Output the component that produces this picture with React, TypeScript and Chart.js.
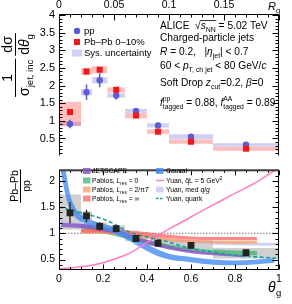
import React, { useEffect, useRef } from 'react';
import { Chart, registerables } from 'chart.js';

Chart.register(...registerables);

const FONT = '"Liberation Sans", Arial, Helvetica, sans-serif';

// ---------------- data ----------------
const BIN_LO = [0, 0.1, 0.15, 0.22, 0.3, 0.4, 0.5, 0.7];
const BIN_HI = [0.1, 0.15, 0.22, 0.3, 0.4, 0.5, 0.7, 1.0];
const THETA_G = [0.05, 0.125, 0.185, 0.26, 0.35, 0.45, 0.6, 0.85];

const PP_VAL = [0.91, 1.81, 2.15, 1.72, 1.28, 0.87, 0.55, 0.32];
const PP_STAT = [0.12, 0.22, 0.2, 0.12, 0.06, 0.05, 0.03, 0.03];
const PP_SYS = [0.06, 0.09, 0.09, 0.06, 0.06, 0.06, 0.07, 0.045];

const PBPB_VAL = [1.25, 2.4, 2.45, 1.88, 1.15, 0.69, 0.41, 0.21];
const PBPB_STAT = [0.05, 0.05, 0.05, 0.04, 0.04, 0.04, 0.03, 0.03];
const PBPB_SYS_LO = [0.86, 2.3, 2.35, 1.8, 1.07, 0.63, 0.35, 0.15];
const PBPB_SYS_HI = [1.54, 2.5, 2.55, 1.95, 1.22, 0.76, 0.47, 0.27];

const RATIO_VAL = [1.39, 1.33, 1.13, 1.09, 0.9, 0.81, 0.77, 0.63];
const RATIO_STAT = [0.2, 0.12, 0.08, 0.05, 0.04, 0.04, 0.04, 0.04];
const RATIO_SYS_LO = [1.07, 1.24, 1.06, 1.03, 0.85, 0.76, 0.7, 0.52];
const RATIO_SYS_HI = [1.74, 1.42, 1.21, 1.15, 0.95, 0.87, 0.87, 0.72];

const CAUCAL_X = [0.005, 0.03, 0.05, 0.07, 0.1, 0.15, 0.2, 0.25, 0.3, 0.35, 0.4, 0.45, 0.5, 0.6, 0.7, 0.8, 0.9, 0.98];
const CAUCAL_LO = [2.25, 1.72, 1.45, 1.32, 1.22, 1.13, 1.07, 1.0, 0.9, 0.78, 0.66, 0.56, 0.5, 0.45, 0.4, 0.39, 0.41, 0.44];
const CAUCAL_HI = [2.75, 2.2, 1.75, 1.52, 1.36, 1.25, 1.18, 1.12, 1.03, 0.9, 0.79, 0.69, 0.61, 0.55, 0.5, 0.48, 0.5, 0.53];

const JET_X = [0.01, 0.1, 0.2, 0.26, 0.3, 0.35, 0.4, 0.5, 0.6, 0.7, 0.85];
const JET_LO = [1.12, 1.1, 1.04, 0.99, 0.94, 0.86, 0.79, 0.69, 0.62, 0.58, 0.54];
const JET_HI = [1.2, 1.18, 1.12, 1.07, 1.02, 0.94, 0.87, 0.76, 0.68, 0.63, 0.58];

const PAB_X = [0.1, 0.2, 0.3, 0.4, 0.5, 0.6, 0.7, 0.8, 0.9];
const PAB0_LO = [1.08, 1.0, 0.9, 0.8, 0.71, 0.65, 0.61, 0.59, 0.58];
const PAB0_HI = [1.18, 1.1, 0.99, 0.88, 0.79, 0.72, 0.69, 0.67, 0.66];
const PAB2_LO = [1.0, 0.99, 0.95, 0.9, 0.85, 0.82, 0.81, 0.8, 0.8];
const PAB2_HI = [1.06, 1.05, 1.01, 0.96, 0.91, 0.88, 0.86, 0.86, 0.86];
const PABI_LO = [1.01, 1.01, 0.99, 0.95, 0.91, 0.88, 0.87, 0.87, 0.87];
const PABI_HI = [1.08, 1.08, 1.06, 1.02, 0.97, 0.94, 0.93, 0.93, 0.93];

const YMED_X = [0, 0.1, 0.2, 0.3, 0.4, 0.5, 0.6, 0.7, 0.8, 0.9, 1.0];
const YMED_LO = [1.17, 1.13, 1.07, 0.98, 0.9, 0.84, 0.8, 0.78, 0.77, 0.76, 0.76];
const YMED_HI = [1.24, 1.2, 1.13, 1.04, 0.96, 0.9, 0.86, 0.84, 0.83, 0.82, 0.82];

const YQ_X = [0, 0.1, 0.2, 0.25, 0.3, 0.35, 0.4, 0.5, 0.6, 0.7, 0.8, 0.9, 1.0];
const YQ_Y = [1.5, 1.39, 1.27, 1.18, 1.06, 0.98, 0.93, 0.83, 0.71, 0.64, 0.58, 0.55, 0.52];

const PINK_X = [0, 0.1, 0.2, 0.3, 0.35, 0.4, 0.45, 0.5, 0.6, 0.7, 0.8, 0.9, 1.0];
const PINK_Y = [0.32, 0.36, 0.44, 0.58, 0.69, 0.82, 0.96, 1.08, 1.31, 1.54, 1.76, 1.98, 2.25];

const TOP_Y_TICKS = [0.5, 1, 1.5, 2, 2.5, 3, 3.5, 4];
const BOT_Y_TICKS = [0.5, 1, 1.5, 2];
const X_TICKS = [0, 0.2, 0.4, 0.6, 0.8, 1];
const RG_TICKS = [0, 0.05, 0.1, 0.15];

// ---------------- colours ----------------
const PP_COLOR = '#5c5cd4';
const PP_SYS_COLOR = 'rgba(110,110,225,0.32)';
const PB_COLOR = '#f01818';
const PB_SYS_COLOR = 'rgba(255,70,70,0.35)';
const GRAY_SYS = 'rgba(150,150,150,0.45)';
const C_CAUCAL = 'rgba(70,140,240,0.8)';
const C_JET = 'rgba(140,90,200,0.85)';
const C_PAB0 = 'rgba(60,180,110,0.75)';
const C_PAB2 = 'rgba(255,150,90,0.72)';
const C_PABI = 'rgba(255,90,90,0.72)';
const C_YMED = 'rgba(195,195,245,0.75)';
const C_PINK = '#ff7fc4';
const C_TEAL = '#169c9c';

type Part = [string, string];

function rich(ctx: CanvasRenderingContext2D, x: number, y: number, parts: Part[], size: number, draw = true): number {
  let cx = x;
  let sq = 0;
  for (const [t, k] of parts) {
    if (k === 'r') {
      ctx.font = `${size}px ${FONT}`;
      if (draw) ctx.fillText('\u221A', cx, y);
      cx += ctx.measureText('\u221A').width;
      sq = cx;
      continue;
    }
    if (k === 'R') {
      if (draw) ctx.fillRect(sq - 0.5, y - size * 0.86, cx - sq + 1, 0.8);
      continue;
    }
    if (k === 's') {
      const [a, b] = t.split('|');
      const fs = size * 0.66;
      ctx.font = `${fs}px ${FONT}`;
      if (draw) {
        ctx.fillText(a, cx, y - size * 0.45);
        ctx.fillText(b, cx, y + size * 0.3);
      }
      cx += Math.max(ctx.measureText(a).width, ctx.measureText(b).width);
      continue;
    }
    const it = k.includes('i');
    const sb = k.includes('b');
    const sp = k.includes('p');
    const fs = sb || sp ? size * 0.68 : size;
    ctx.font = `${it ? 'italic ' : ''}${fs}px ${FONT}`;
    const dy = sb ? size * 0.3 : sp ? -size * 0.42 : 0;
    if (draw) ctx.fillText(t, cx, y + dy);
    cx += ctx.measureText(t).width;
  }
  return cx - x;
}

function rotFrac(ctx: CanvasRenderingContext2D, barX: number, cy: number, fracs: { num: Part[]; den: Part[] }[], size: number, gap: number) {
  ctx.save();
  ctx.translate(barX, cy);
  ctx.rotate(-Math.PI / 2);
  ctx.fillStyle = '#000';
  ctx.textBaseline = 'alphabetic';
  ctx.textAlign = 'left';
  const ws = fracs.map((f) => {
    const nw = rich(ctx, 0, 0, f.num, size, false);
    const dw = rich(ctx, 0, 0, f.den, size, false);
    return { nw, dw, w: Math.max(nw, dw) + 2 };
  });
  const total = ws.reduce((s, w) => s + w.w, 0) + gap * (fracs.length - 1);
  let x = -total / 2;
  fracs.forEach((f, i) => {
    const { nw, dw, w } = ws[i];
    rich(ctx, x + (w - nw) / 2, -size * 0.22, f.num, size, true);
    rich(ctx, x + (w - dw) / 2, size * 0.95, f.den, size, true);
    ctx.fillRect(x, -0.5, w, 1);
    x += w + gap;
  });
  ctx.restore();
}

function boxPx(ctx: CanvasRenderingContext2D, xs: any, ys: any, x0: number, x1: number, y0: number, y1: number) {
  const px0 = xs.getPixelForValue(x0);
  const px1 = xs.getPixelForValue(x1);
  const py0 = ys.getPixelForValue(y1);
  const py1 = ys.getPixelForValue(y0);
  ctx.fillRect(px0, py0, px1 - px0, py1 - py0);
}

function clipArea(ctx: CanvasRenderingContext2D, a: any) {
  ctx.beginPath();
  ctx.rect(a.left, a.top, a.right - a.left, a.bottom - a.top);
  ctx.clip();
}

// ---------------- top chart ----------------
const topPlugin = {
  id: 'topDeco',
  beforeDatasetsDraw(chart: any) {
    const { ctx, chartArea: a } = chart;
    const xs = chart.scales.x;
    const ys = chart.scales.y;
    ctx.save();
    clipArea(ctx, a);
    ctx.fillStyle = PP_SYS_COLOR;
    BIN_LO.forEach((lo, i) => boxPx(ctx, xs, ys, lo, BIN_HI[i], PP_VAL[i] - PP_SYS[i], PP_VAL[i] + PP_SYS[i]));
    ctx.fillStyle = PB_SYS_COLOR;
    BIN_LO.forEach((lo, i) => boxPx(ctx, xs, ys, lo, BIN_HI[i], PBPB_SYS_LO[i], PBPB_SYS_HI[i]));
    ctx.lineWidth = 1.5;
    ctx.strokeStyle = PP_COLOR;
    ctx.beginPath();
    THETA_G.forEach((t, i) => {
      const px = xs.getPixelForValue(t);
      ctx.moveTo(px, ys.getPixelForValue(PP_VAL[i] - PP_STAT[i]));
      ctx.lineTo(px, ys.getPixelForValue(PP_VAL[i] + PP_STAT[i]));
    });
    ctx.stroke();
    ctx.strokeStyle = PB_COLOR;
    ctx.beginPath();
    THETA_G.forEach((t, i) => {
      const px = xs.getPixelForValue(t);
      ctx.moveTo(px, ys.getPixelForValue(PBPB_VAL[i] - PBPB_STAT[i]));
      ctx.lineTo(px, ys.getPixelForValue(PBPB_VAL[i] + PBPB_STAT[i]));
    });
    ctx.stroke();
    ctx.restore();
  },
  afterDraw(chart: any) {
    const { ctx, chartArea: a } = chart;
    const ys = chart.scales.y;
    const xr = chart.scales.xr;
    ctx.save();
    ctx.strokeStyle = '#000';
    ctx.lineWidth = 1;
    const L = a.left + 0.5;
    const R = a.right - 0.5;
    const T = a.top + 0.5;
    const B = a.bottom;
    ctx.beginPath();
    ctx.moveTo(L, B);
    ctx.lineTo(L, T);
    ctx.lineTo(R, T);
    ctx.lineTo(R, B);
    for (let k = 1; k <= 40; k++) {
      const v = k / 10;
      const p = Math.round(ys.getPixelForValue(v)) + 0.5;
      const len = k % 5 === 0 ? 6 : 3;
      ctx.moveTo(L, p);
      ctx.lineTo(L + len, p);
      ctx.moveTo(R, p);
      ctx.lineTo(R - len, p);
    }
    for (let k = 0; k <= 20; k++) {
      const p = Math.round(xr.getPixelForValue(k / 100)) + 0.5;
      const len = k % 5 === 0 ? 6 : 3;
      ctx.moveTo(p, T);
      ctx.lineTo(p, T + len);
    }
    ctx.stroke();

    ctx.fillStyle = '#000';
    ctx.textBaseline = 'alphabetic';
    ctx.textAlign = 'left';
    // R_g axis title
    rich(ctx, 268, 10, [['R', 'i'], ['g', 'b']], 11);

    // legend
    ctx.fillStyle = PP_COLOR;
    ctx.beginPath();
    ctx.arc(77, 31, 3.2, 0, Math.PI * 2);
    ctx.fill();
    ctx.fillStyle = PB_COLOR;
    ctx.fillRect(74, 39, 6, 6);
    ctx.fillStyle = PP_SYS_COLOR;
    ctx.fillRect(72, 49.5, 10, 7);
    ctx.fillStyle = '#000';
    ctx.font = `9.5px ${FONT}`;
    ctx.fillText('pp', 84, 34.3);
    ctx.fillText('Pb\u2013Pb 0\u201310%', 84, 45.3);
    ctx.fillText('Sys. uncertainty', 84, 56.3);

    // text block
    const S = 10.2;
    const X0 = 160;
    rich(ctx, X0, 29, [['ALICE  ', ''], ['', 'r'], ['s', 'i'], ['NN', 'b'], ['', 'R'], [' = 5.02 TeV', '']], S);
    rich(ctx, X0, 41, [['Charged-particle jets', '']], S);
    rich(ctx, X0, 55, [['R', 'i'], [' = 0.2,   |', ''], ['\u03B7', 'i'], ['jet', 'b'], ['| < 0.7', '']], S);
    rich(ctx, X0, 69, [['60 < ', ''], ['p', 'i'], ['T, ch jet', 'b'], [' < 80 GeV/', ''], ['c', 'i']], S);
    rich(ctx, X0, 85.5, [['Soft Drop ', ''], ['z', 'i'], ['cut', 'b'], ['=0.2, ', ''], ['\u03B2', 'i'], ['=0', '']], S);
    rich(ctx, X0, 106, [['f', 'i'], ['pp|tagged', 's'], [' = 0.88, ', ''], ['f', 'i'], ['AA|tagged', 's'], [' = 0.89', '']], S);

    // y title
    rotFrac(
      ctx,
      15.5,
      65,
      [
        { num: [['1', '']], den: [['\u03C3', ''], ['jet, inc', 'b']] },
        { num: [['d\u03C3', '']], den: [['d', ''], ['\u03B8', 'i'], ['g', 'b']] },
      ],
      14,
      3
    );
    ctx.restore();
  },
};

function topConfig(): any {
  return {
    type: 'line',
    data: {
      datasets: [
        {
          label: 'Pb-Pb 0-10%',
          data: THETA_G.map((x, i) => ({ x, y: PBPB_VAL[i] })),
          showLine: false,
          pointStyle: 'rect',
          pointRadius: 4.3,
          backgroundColor: PB_COLOR,
          borderColor: PB_COLOR,
          borderWidth: 0,
          order: 0,
        },
        {
          label: 'pp',
          data: THETA_G.map((x, i) => ({ x, y: PP_VAL[i] })),
          showLine: false,
          pointStyle: 'circle',
          pointRadius: 3.2,
          backgroundColor: PP_COLOR,
          borderColor: PP_COLOR,
          borderWidth: 0,
          order: 1,
        },
      ],
    },
    options: {
      responsive: false,
      animation: false,
      devicePixelRatio: 1,
      layout: { padding: { left: 0, right: 13, top: 0, bottom: 0 } },
      plugins: { legend: { display: false }, tooltip: { enabled: false } },
      scales: {
        x: { type: 'linear', min: 0, max: 1, display: false },
        xr: {
          type: 'linear',
          position: 'top',
          min: 0,
          max: 0.2,
          grid: { display: false, drawTicks: false },
          border: { display: false },
          ticks: { autoSkip: false, maxRotation: 0, padding: 3, color: '#000', font: { family: FONT, size: 10.5 }, callback: (v: number) => String(v) },
          afterBuildTicks: (s: any) => {
            s.ticks = RG_TICKS.map((v) => ({ value: v }));
          },
          afterFit: (s: any) => {
            s.height = 14;
          },
        },
        y: {
          type: 'linear',
          min: 0.02,
          max: 4.03,
          grid: { display: false, drawTicks: false },
          border: { display: false },
          ticks: { autoSkip: false, padding: 4, color: '#000', font: { family: FONT, size: 11 }, callback: (v: number) => String(v) },
          afterBuildTicks: (s: any) => {
            s.ticks = TOP_Y_TICKS.map((v) => ({ value: v }));
          },
          afterFit: (s: any) => {
            s.width = 59;
          },
        },
      },
    },
    plugins: [topPlugin],
  };
}

// ---------------- bottom chart ----------------
const botPlugin = {
  id: 'botDeco',
  beforeDatasetsDraw(chart: any) {
    const { ctx, chartArea: a } = chart;
    const xs = chart.scales.x;
    const ys = chart.scales.y;
    ctx.save();
    clipArea(ctx, a);
    ctx.fillStyle = GRAY_SYS;
    BIN_LO.forEach((lo, i) => boxPx(ctx, xs, ys, lo, BIN_HI[i], RATIO_SYS_LO[i], RATIO_SYS_HI[i]));
    ctx.restore();
  },
  beforeDatasetDraw(chart: any, args: any) {
    if (args.index !== 0) return;
    const { ctx, chartArea: a } = chart;
    const xs = chart.scales.x;
    const ys = chart.scales.y;
    ctx.save();
    clipArea(ctx, a);
    ctx.strokeStyle = '#222';
    ctx.lineWidth = 1.3;
    ctx.beginPath();
    THETA_G.forEach((t, i) => {
      const px = xs.getPixelForValue(t);
      ctx.moveTo(px, ys.getPixelForValue(RATIO_VAL[i] - RATIO_STAT[i]));
      ctx.lineTo(px, ys.getPixelForValue(RATIO_VAL[i] + RATIO_STAT[i]));
    });
    ctx.stroke();
    ctx.restore();
  },
  afterDraw(chart: any) {
    const { ctx, chartArea: a } = chart;
    const xs = chart.scales.x;
    const ys = chart.scales.y;
    ctx.save();
    ctx.strokeStyle = '#000';
    ctx.lineWidth = 1;
    const L = a.left + 0.5;
    const R = a.right - 0.5;
    const T = a.top;
    const B = a.bottom - 0.5;
    ctx.beginPath();
    ctx.moveTo(L, T);
    ctx.lineTo(L, B);
    ctx.lineTo(R, B);
    ctx.lineTo(R, T);
    for (let k = 4; k <= 22; k++) {
      const p = Math.round(ys.getPixelForValue(k / 10)) + 0.5;
      const len = k % 5 === 0 ? 6 : 3;
      ctx.moveTo(L, p);
      ctx.lineTo(L + len, p);
      ctx.moveTo(R, p);
      ctx.lineTo(R - len, p);
    }
    for (let k = 0; k <= 20; k++) {
      const p = Math.round(xs.getPixelForValue(k / 20)) + 0.5;
      const len = k % 4 === 0 ? 5 : 2.5;
      ctx.moveTo(p, B);
      ctx.lineTo(p, B - len);
      ctx.moveTo(p, T);
      ctx.lineTo(p, T + len);
    }
    ctx.stroke();
    ctx.fillStyle = '#3a3a3a';
    ctx.fillRect(a.left, a.top - 1, a.right - a.left, 2);

    // legend
    const LS = 6.8;
    const rows = [171, 180.5, 189.5, 198.5].map((v) => v - 160);
    const c1s = 83;
    const c1t = 92;
    const c2s = 156;
    const c2t = 166;
    const sw = (x: number, y: number, col: string) => {
      ctx.fillStyle = col;
      ctx.fillRect(x, y - 3, 7.5, 6);
    };
    sw(c1s, rows[0], C_JET);
    sw(c1s, rows[1], C_PAB0);
    sw(c1s, rows[2], C_PAB2);
    sw(c1s, rows[3], C_PABI);
    sw(c2s, rows[0], C_CAUCAL);
    sw(c2s, rows[2], C_YMED);
    ctx.strokeStyle = C_PINK;
    ctx.lineWidth = 1.5;
    ctx.beginPath();
    ctx.moveTo(c2s, rows[1]);
    ctx.lineTo(c2s + 8, rows[1]);
    ctx.stroke();
    ctx.strokeStyle = C_TEAL;
    ctx.setLineDash([2.5, 1.5]);
    ctx.beginPath();
    ctx.moveTo(c2s, rows[3]);
    ctx.lineTo(c2s + 8, rows[3]);
    ctx.stroke();
    ctx.setLineDash([]);
    ctx.fillStyle = '#000';
    ctx.textBaseline = 'alphabetic';
    ctx.textAlign = 'left';
    const bl = LS * 0.36;
    rich(ctx, c1t, rows[0] + bl, [['JETSCAPE', '']], LS);
    rich(ctx, c1t, rows[1] + bl, [['Pablos, ', ''], ['L', 'i'], ['res', 'b'], [' = 0', '']], LS);
    rich(ctx, c1t, rows[2] + bl, [['Pablos, ', ''], ['L', 'i'], ['res', 'b'], [' = 2/\u03C0', ''], ['T', 'i']], LS);
    rich(ctx, c1t, rows[3] + bl, [['Pablos, ', ''], ['L', 'i'], ['res', 'b'], [' = \u221E', '']], LS);
    rich(ctx, c2t, rows[0] + bl, [['Caucal', '']], LS);
    rich(ctx, c2t, rows[1] + bl, [['Yuan, ', ''], ['q\u0302', ''], ['L = 5 GeV', ''], ['2', 'p']], LS);
    rich(ctx, c2t, rows[2] + bl, [['Yuan, med ', ''], ['q', 'i'], ['/', ''], ['g', 'i']], LS);
    rich(ctx, c2t, rows[3] + bl, [['Yuan, quark', '']], LS);

    // axis title
    rich(ctx, 268, 132, [['\u03B8', 'i']], 14);
    ctx.font = `9.5px ${FONT}`;
    ctx.fillText('g', 276, 136);

    // y title
    rotFrac(ctx, 20.5, 26, [{ num: [['Pb\u2013Pb', '']], den: [['pp', '']] }], 10.5, 0);
    ctx.restore();
  },
};

function botConfig(): any {
  const datasets: any[] = [];
  datasets.push({
    label: 'ratio',
    data: THETA_G.map((x, i) => ({ x, y: RATIO_VAL[i] })),
    showLine: false,
    pointStyle: 'rect',
    pointRadius: 4.8,
    backgroundColor: '#222',
    borderColor: '#222',
    borderWidth: 0,
    order: 0,
  });
  datasets.push({
    label: 'Yuan, quark',
    data: YQ_X.map((x, i) => ({ x, y: YQ_Y[i] })),
    borderColor: C_TEAL,
    borderWidth: 1.6,
    borderDash: [4, 2.5],
    pointRadius: 0,
    fill: false,
    cubicInterpolationMode: 'monotone',
    order: 1,
  });
  datasets.push({
    label: 'Yuan qL',
    data: PINK_X.map((x, i) => ({ x, y: PINK_Y[i] })),
    borderColor: C_PINK,
    borderWidth: 1.5,
    pointRadius: 0,
    fill: false,
    cubicInterpolationMode: 'monotone',
    order: 2,
  });
  const band = (xsA: number[], lo: number[], hi: number[], color: string, order: number) => {
    const loIdx = datasets.length;
    datasets.push({
      data: xsA.map((x, i) => ({ x, y: lo[i] })),
      borderWidth: 0,
      pointRadius: 0,
      fill: false,
      cubicInterpolationMode: 'monotone',
      order,
    });
    datasets.push({
      data: xsA.map((x, i) => ({ x, y: hi[i] })),
      borderWidth: 0,
      pointRadius: 0,
      fill: loIdx,
      backgroundColor: color,
      cubicInterpolationMode: 'monotone',
      order,
    });
  };
  band(CAUCAL_X, CAUCAL_LO, CAUCAL_HI, C_CAUCAL, 3);
  band(JET_X, JET_LO, JET_HI, C_JET, 4);
  band(PAB_X, PABI_LO, PABI_HI, C_PABI, 5);
  band(PAB_X, PAB2_LO, PAB2_HI, C_PAB2, 6);
  band(PAB_X, PAB0_LO, PAB0_HI, C_PAB0, 7);
  band(YMED_X, YMED_LO, YMED_HI, C_YMED, 8);
  datasets.push({
    label: 'unity',
    data: [
      { x: 0, y: 1 },
      { x: 1, y: 1 },
    ],
    borderColor: '#777',
    borderWidth: 1,
    borderDash: [1.5, 1.5],
    pointRadius: 0,
    fill: false,
    order: 9,
  });
  return {
    type: 'line',
    data: { datasets },
    options: {
      responsive: false,
      animation: false,
      devicePixelRatio: 1,
      layout: { padding: { left: 0, right: 13, top: 6, bottom: 0 } },
      plugins: { legend: { display: false }, tooltip: { enabled: false } },
      scales: {
        x: {
          type: 'linear',
          min: 0,
          max: 1,
          grid: { display: false, drawTicks: false },
          border: { display: false },
          ticks: { autoSkip: false, maxRotation: 0, padding: 3, color: '#000', font: { family: FONT, size: 10.5 }, callback: (v: number) => String(v) },
          afterBuildTicks: (s: any) => {
            s.ticks = X_TICKS.map((v) => ({ value: v }));
          },
          afterFit: (s: any) => {
            s.height = 34;
          },
        },
        y: {
          type: 'linear',
          min: 0.3,
          max: 2.2,
          grid: { display: false, drawTicks: false },
          border: { display: false },
          ticks: { autoSkip: false, padding: 4, color: '#000', font: { family: FONT, size: 10.5 }, callback: (v: number) => String(v) },
          afterBuildTicks: (s: any) => {
            s.ticks = BOT_Y_TICKS.map((v) => ({ value: v }));
          },
          afterFit: (s: any) => {
            s.width = 59;
          },
        },
      },
    },
    plugins: [botPlugin],
  };
}

export default function App() {
  const topRef = useRef<HTMLCanvasElement>(null);
  const botRef = useRef<HTMLCanvasElement>(null);
  useEffect(() => {
    const c1 = new Chart(topRef.current as HTMLCanvasElement, topConfig());
    const c2 = new Chart(botRef.current as HTMLCanvasElement, botConfig());
    return () => {
      c1.destroy();
      c2.destroy();
    };
  }, []);
  return (
    <div style={{ position: 'fixed', left: 0, top: 0, width: 292, height: 304, background: '#fff', overflow: 'hidden' }}>
      <canvas ref={topRef} width={292} height={166} style={{ position: 'absolute', left: 0, top: 0, width: 292, height: 166 }} />
      <canvas ref={botRef} width={292} height={144} style={{ position: 'absolute', left: 0, top: 160, width: 292, height: 144 }} />
    </div>
  );
}
